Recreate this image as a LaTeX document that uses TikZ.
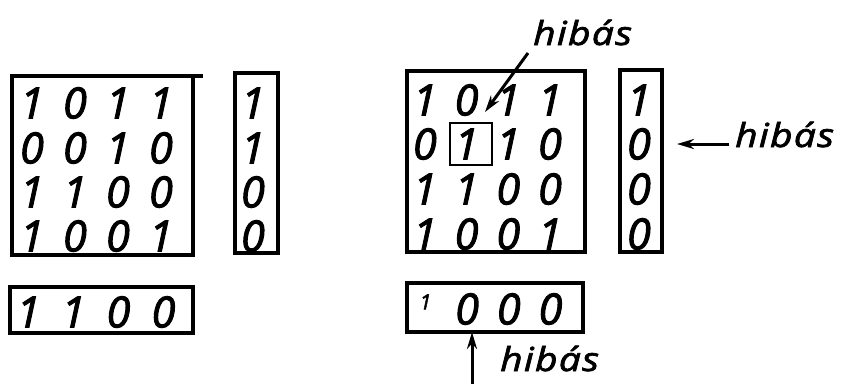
\documentclass[tikz,border=0pt]{standalone}
\usepackage{fontspec}
\setmainfont{Open Sans}
\newfontfamily\heavyfont[FakeBold=2.2]{Open Sans}
\newfontfamily\widefont[FakeBold=2.2, FakeStretch=1.18, LetterSpace=4]{Open Sans}
\usetikzlibrary{arrows.meta}

% one row of four bits, evenly spaced
\newcommand{\bits}[5][43pt]{\makebox[#1]{#2}\makebox[#1]{#3}\makebox[#1]{#4}\makebox[#1]{#5}}
\newcommand{\bitfont}{\fontsize{43}{43}\heavyfont\itshape}
\newcommand{\tagfont}{\fontsize{33}{33}\widefont\itshape}

\begin{document}
\begin{tikzpicture}[x=1pt, y=-1pt, >={Stealth[length=17pt,width=10pt]},
  frame/.style={draw, line width=3.5pt, inner sep=0pt, outer sep=0pt},
  bit/.style={font=\bitfont, inner sep=0pt},
  tag/.style={font=\tagfont, inner sep=0pt, anchor=base west},
  pointer/.style={->, line width=3pt}]
\useasboundingbox (0,0) rectangle (852,384);

% sent block with its parity column and parity row
\node[frame, minimum width=181pt, minimum height=179pt] (lmat) at (102.5,165.5) {};
\draw[line width=3.5pt] (lmat.north east) -- ++(10,0);
\node[frame, minimum width=43pt, minimum height=180pt] (lcol) at (256.5,163) {};
\node[frame, minimum width=183pt, minimum height=46pt] (lrow) at (101.5,310) {};

\node[bit] (l1) at (96.5,103) {\bits{1}{0}{1}{1}};
\node[bit] (l2) at (96.5,148) {\bits{0}{0}{1}{0}};
\node[bit] (l3) at (96.5,192) {\bits{1}{1}{0}{0}};
\node[bit] (l4) at (96.5,236) {\bits{1}{0}{0}{1}};
\node[bit] (lc1) at (253,103) {1};
\node[bit] (lc2) at (253,148) {1};
\node[bit] (lc3) at (253,192) {0};
\node[bit] (lc4) at (253,236) {0};
\node[bit] (lp) at (96,312) {\bits[45pt]{1}{1}{0}{0}};

% received block with one flipped bit
\node[frame, minimum width=178pt, minimum height=181pt] (rmat) at (496,161.5) {};
\node[frame, minimum width=42pt, minimum height=182pt] (rcol) at (641,161) {};
\node[frame, minimum width=176pt, minimum height=49pt] (rrow) at (495,307.5) {};
\node[frame, line width=2.4pt, minimum size=42pt] (err) at (471,144) {};

\node[bit] (r1) at (487.5,100) {\bits[41.7pt]{1}{0}{1}{1}};
\node[bit] (r2) at (487.5,144) {\bits[41.7pt]{0}{1}{1}{0}};
\node[bit] (r3) at (487.5,189) {\bits[41.7pt]{1}{1}{0}{0}};
\node[bit] (r4) at (487.5,234) {\bits[41.7pt]{1}{0}{0}{1}};
\node[bit] (rc1) at (639,100) {1};
\node[bit] (rc2) at (639,144) {0};
\node[bit] (rc3) at (639,189) {0};
\node[bit] (rc4) at (639,234) {0};
\node[bit] (rp) at (488,309) {\bits[41.7pt]{\raisebox{15pt}{\fontsize{21}{21}\selectfont 1}}{0}{0}{0}};

% error markers
\node[tag] (hib1) at (533,45) {hibás};
\node[tag] (hib2) at (735,147) {hibás};
\node[tag] (hib3) at (500,371) {hibás};
\coordinate (foot) at (472,384);

\draw[pointer] ([xshift=-5pt,yshift=-8pt]hib1.base west) -- ([xshift=14pt,yshift=11pt]err.north);
\draw[pointer] ([xshift=-6pt,yshift=3pt]hib2.base west) -- ([xshift=38pt]rc2.center);
\draw[pointer] (foot) -- (foot |- rrow.south);
\end{tikzpicture}
\end{document}
